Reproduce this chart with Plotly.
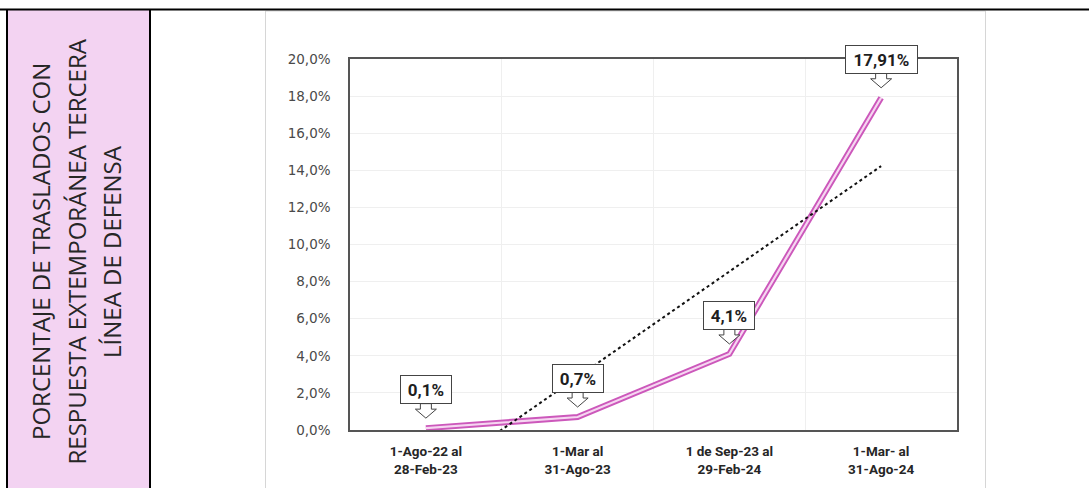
import numpy as np
import plotly.graph_objects as go

W, H = 1089, 488

categories = ["1-Ago-22 al<br>28-Feb-23", "1-Mar al<br>31-Ago-23",
              "1 de Sep-23 al<br>29-Feb-24", "1-Mar- al<br>31-Ago-24"]
values = [0.001, 0.007, 0.041, 0.1791]
labels = ["0,1%", "0,7%", "4,1%", "17,91%"]
title_lines = ["PORCENTAJE DE TRASLADOS CON",
               "RESPUESTA EXTEMPORÁNEA TERCERA",
               "LÍNEA DE DEFENSA"]

# linear trendline fitted on the data
idx = np.arange(len(values))
slope, intercept = np.polyfit(idx, values, 1)
trend = list(slope * idx + intercept)

def px(x):
    return x / W

def py(y):
    return 1 - y / H

fig = go.Figure()

# double pink line
fig.add_trace(go.Scatter(x=categories, y=values, mode="lines",
                         line=dict(color="#cc58bb", width=6), hoverinfo="skip",
                         showlegend=False))
fig.add_trace(go.Scatter(x=categories, y=values, mode="lines",
                         line=dict(color="#f6d6f1", width=2.2), hoverinfo="skip",
                         showlegend=False))
# trendline
fig.add_trace(go.Scatter(x=categories, y=trend, mode="lines",
                         line=dict(color="#111111", width=2, dash="dot"),
                         hoverinfo="skip", showlegend=False))

shapes = []
# pink cell
shapes.append(dict(type="rect", xref="paper", yref="paper", x0=px(8), x1=px(150),
                   y0=py(488), y1=py(10), fillcolor="#f3d3f2", line=dict(width=0), layer="below"))
# image frame (light gray)
shapes.append(dict(type="rect", xref="paper", yref="paper", x0=px(265.5), x1=px(985.5),
                   y0=py(490), y1=py(11), fillcolor="rgba(0,0,0,0)",
                   line=dict(color="#d6d6d6", width=1), layer="below"))
# black table borders
shapes.append(dict(type="line", xref="paper", yref="paper", x0=0, x1=1,
                   y0=py(9.5), y1=py(9.5), line=dict(color="#000000", width=2)))
shapes.append(dict(type="line", xref="paper", yref="paper", x0=px(7), x1=px(7),
                   y0=py(9), y1=py(490), line=dict(color="#000000", width=2)))
shapes.append(dict(type="line", xref="paper", yref="paper", x0=px(150), x1=px(150),
                   y0=py(9), y1=py(490), line=dict(color="#000000", width=2)))

# callout arrows below the label boxes
arrow_path = "M 0,10 L -10.5,19 L -5.5,19 L -5.5,24.5 L 5.5,24.5 L 5.5,19 L 10.5,19 Z"
for c, v in zip(categories, values):
    shapes.append(dict(type="path", xref="x", yref="y", xsizemode="pixel", ysizemode="pixel",
                       xanchor=c, yanchor=v, path=arrow_path, fillcolor="white",
                       line=dict(color="#444444", width=1), layer="above"))

annotations = []
for c, v, t in zip(categories, values, labels):
    annotations.append(dict(x=c, y=v, xref="x", yref="y", text="<b>%s</b>" % t,
                            showarrow=False, yanchor="bottom", xanchor="center", yshift=24,
                            width=len(t) * 10.5 + 2, height=21,
                            font=dict(family="Roboto", size=17, color="#1e1e1e"),
                            bgcolor="white", bordercolor="#444444", borderwidth=1, borderpad=3))

for xpos, line in zip([40, 75.5, 111], title_lines):
    annotations.append(dict(x=px(xpos), y=py(252), xref="paper", yref="paper", text=line,
                            showarrow=False, textangle=-90, xanchor="center", yanchor="middle",
                            font=dict(family="Open Sans", size=24, color="#262626")))

fig.update_layout(
    width=W, height=H,
    margin=dict(l=0, r=0, t=0, b=0, pad=0, autoexpand=False),
    paper_bgcolor="white", plot_bgcolor="white",
    separators=",.",
    shapes=shapes, annotations=annotations,
    xaxis=dict(domain=[px(350), px(957)], type="category", tickson="boundaries",
               range=[-0.5, len(categories) - 0.5], autorange=False, automargin=False,
               showgrid=True, gridcolor="#efefef", gridwidth=1,
               showline=True, linecolor="#555555", linewidth=1.5, mirror=True,
               ticks="", ticklabelstandoff=8,
               tickfont=dict(family="Roboto", size=13.5, color="#262626", weight="bold")),
    yaxis=dict(domain=[py(430), py(59)], range=[0, 0.2], autorange=False, automargin=False,
               dtick=0.02, tickformat=".1%",
               showgrid=True, gridcolor="#efefef", gridwidth=1, zeroline=False,
               showline=True, linecolor="#555555", linewidth=1.5, mirror=True,
               ticks="", ticklabelstandoff=15,
               tickfont=dict(family="DejaVu Sans", size=13.5, color="#4a4a4a")),
)

fig.write_html("out.html")
